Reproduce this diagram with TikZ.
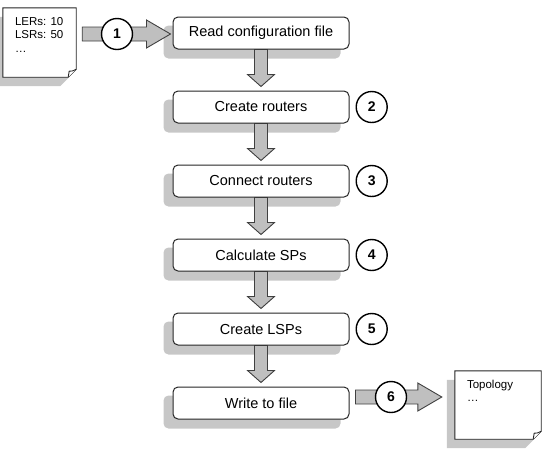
\documentclass[tikz,border=0pt]{standalone}
\usepackage{fontspec}
\setmainfont{Liberation Sans}
\usetikzlibrary{positioning, calc, backgrounds}

% shadow behind a step box
\newcommand{\boxshadow}[1]{\fill[shadowfill, rounded corners=5pt] ([shift={(-9,9)}]#1.south west) rectangle ([shift={(-9,9)}]#1.north east);}
% shadow and outline of a document with a folded corner
\newcommand{\docshadow}[1]{\fill[shadowfill] ([shift={(-8,9)}]#1.north west) -- ([shift={(-8,9)}]#1.north east) -- ([shift={(-8,1)}]#1.south east) -- ([shift={(-16,9)}]#1.south east) -- ([shift={(-8,9)}]#1.south west) -- cycle;}
\newcommand{\drawdoc}[1]{%
  \draw[docline] (#1.north west) -- (#1.north east) -- ([yshift=8pt]#1.south east) -- ([xshift=-8pt]#1.south east) -- (#1.south west) -- cycle;
  \draw[docline] ([yshift=8pt]#1.south east) .. controls ([shift={(-4,-6)}]#1.south east) .. ([shift={(-7,-6)}]#1.south east) -- ([xshift=-8pt]#1.south east);}
% block arrows: down from box to box, and across through a number circle
\newcommand{\vblock}[2]{\path[blockarrow] let \p1=(#1.south), \p2=(#2.north) in
  (\x1-6.5pt,\y1) -- (\x1-6.5pt,\y2+16pt) -- (\x1-13.5pt,\y2+16pt) -- (\x1,\y2+4pt)
  -- (\x1+13.5pt,\y2+16pt) -- (\x1+6.5pt,\y2+16pt) -- (\x1+6.5pt,\y1) -- cycle;}
\newcommand{\hblock}[4]{\path[blockarrow] let \p1=(#1.east), \p2=(#3.west), \p3=(#2) in
  (\x1+6pt,\y3+7pt) -- (\x2-#4-24pt,\y3+7pt) -- (\x2-#4-24pt,\y3+14pt) -- (\x2-#4,\y3)
  -- (\x2-#4-24pt,\y3-14pt) -- (\x2-#4-24pt,\y3-7pt) -- (\x1+6pt,\y3-7pt) -- cycle;}

\begin{document}
\begin{tikzpicture}[
    x=1pt, y=-1pt,
    node distance=41pt,
    stepbox/.style={draw=black!85, line width=1pt, fill=white, rounded corners=5pt,
        minimum width=176pt, minimum height=32pt, font=\fontsize{14.5}{17}\selectfont},
    numcircle/.style={circle, draw, line width=1.4pt, fill=white, minimum size=31pt,
        inner sep=0pt, font=\fontsize{14}{16}\selectfont\bfseries},
    docnode/.style={inner xsep=12pt, inner ysep=9pt, font=\fontsize{11.5}{13.5}\selectfont},
    docline/.style={draw=black!85, line width=0.9pt, fill=white},
    shadowfill/.style={fill=black!22},
    blockarrow/.style={draw=black!75, line width=0.9pt, fill=black!25}
]
    \useasboundingbox (0,0) rectangle (551,459);

    % the six steps, top to bottom
    \node[stepbox] (read) at (261,33) {Read configuration file};
    \node[stepbox, below=of read] (routers) {Create routers};
    \node[stepbox, below=of routers] (connect) {Connect routers};
    \node[stepbox, below=of connect] (sps) {Calculate SPs};
    \node[stepbox, below=of sps] (lsps) {Create LSPs};
    \node[stepbox, below=of lsps] (write) {Write to file};

    % input and output files
    \node[docnode] (config) at (39.5,42.5) {\parbox[t][51pt][t]{49pt}{LERs: 10\\LSRs: 50\\…}};
    \node[docnode] (topo) at (498,405) {\parbox[t][50pt][t]{62pt}{Topology\\…}};

    % step numbers
    \node[numcircle] (n1) at (117,34) {1};
    \node[numcircle, right=6pt of routers] (n2) {2};
    \node[numcircle, right=6pt of connect] (n3) {3};
    \node[numcircle, right=6pt of sps] (n4) {4};
    \node[numcircle, right=6pt of lsps] (n5) {5};
    \node[numcircle] (n6) at (391,397) {6};

    \begin{scope}[on background layer]
        \docshadow{config}
        \docshadow{topo}
        \drawdoc{config}
        \drawdoc{topo}
        \foreach \b in {read, routers, connect, sps, lsps, write}
            \boxshadow{\b};
        \vblock{read}{routers}
        \vblock{routers}{connect}
        \vblock{connect}{sps}
        \vblock{sps}{lsps}
        \vblock{lsps}{write}
        \hblock{config}{n1}{read}{2pt}
        \hblock{write}{n6}{topo}{13pt}
    \end{scope}
\end{tikzpicture}
\end{document}
